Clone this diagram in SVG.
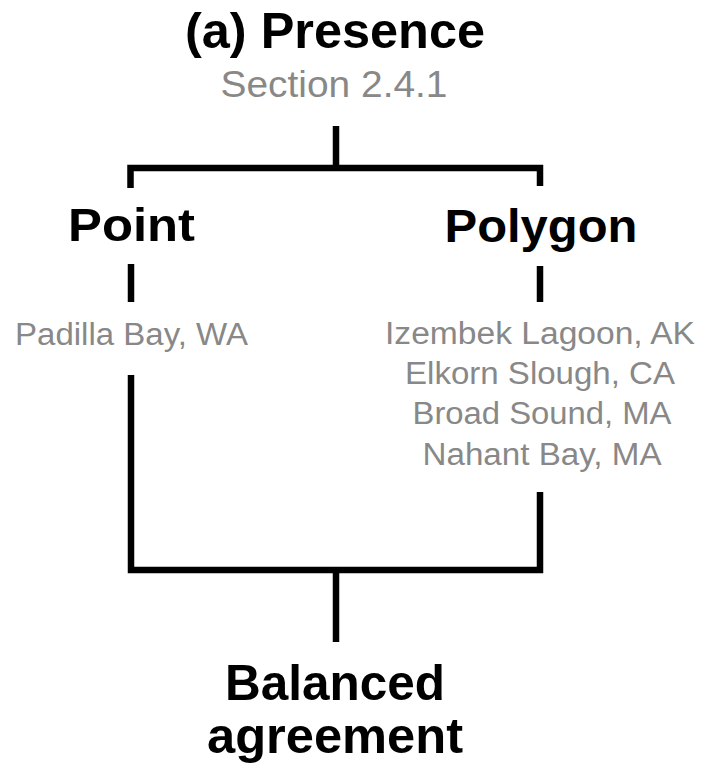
<svg xmlns="http://www.w3.org/2000/svg" width="705" height="778" viewBox="0 0 705 778">
<style>
.h{font-family:"Liberation Sans",Arial,sans-serif;font-weight:bold;fill:#000;text-anchor:middle}
.s{font-family:"Liberation Sans",Arial,sans-serif;fill:#888;text-anchor:middle}
.c{fill:none;stroke:#000;stroke-width:6.5;stroke-linejoin:miter;stroke-linecap:butt}
</style>
<rect width="705" height="778" fill="#fff"/>
<g id="connectors">
<path class="c" d="M336,126 V168"/>
<path class="c" d="M130.5,188 V168 H540 V186"/>
<path class="c" d="M131,264 V302"/>
<path class="c" d="M540,266 V302"/>
<path class="c" d="M131,375 V570 H540 V492"/>
<path class="c" d="M336,570 V642"/>
</g>
<g id="presence">
<text class="h" x="335" y="48" font-size="50" textLength="300" lengthAdjust="spacingAndGlyphs">(a) Presence</text>
<text class="s" x="334" y="97" font-size="36" textLength="227" lengthAdjust="spacingAndGlyphs">Section 2.4.1</text>
</g>
<g id="point">
<text class="h" x="131.5" y="241" font-size="47" textLength="127" lengthAdjust="spacingAndGlyphs">Point</text>
</g>
<g id="polygon">
<text class="h" x="541" y="242" font-size="47" textLength="193" lengthAdjust="spacingAndGlyphs">Polygon</text>
</g>
<g id="point-sites">
<text class="s" x="131.5" y="345" font-size="31" textLength="233" lengthAdjust="spacingAndGlyphs">Padilla Bay, WA</text>
</g>
<g id="polygon-sites">
<text class="s" x="540" y="344" font-size="31" textLength="310" lengthAdjust="spacingAndGlyphs">Izembek Lagoon, AK</text>
<text class="s" x="540" y="384" font-size="31" textLength="270" lengthAdjust="spacingAndGlyphs">Elkorn Slough, CA</text>
<text class="s" x="542" y="424" font-size="31" textLength="259" lengthAdjust="spacingAndGlyphs">Broad Sound, MA</text>
<text class="s" x="542" y="465" font-size="31" textLength="239" lengthAdjust="spacingAndGlyphs">Nahant Bay, MA</text>
</g>
<g id="balanced-agreement">
<text class="h" x="335" y="700" font-size="50" textLength="220" lengthAdjust="spacingAndGlyphs">Balanced</text>
<text class="h" x="335" y="753" font-size="50" textLength="256" lengthAdjust="spacingAndGlyphs">agreement</text>
</g>
</svg>
